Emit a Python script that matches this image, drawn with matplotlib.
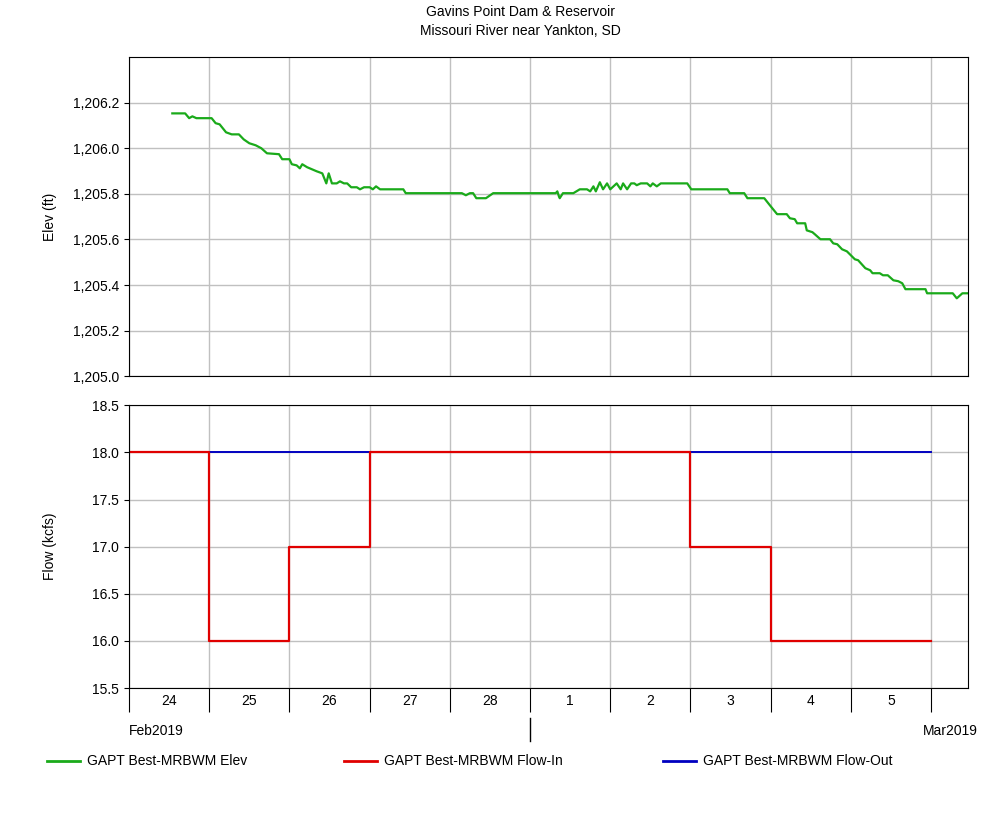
import matplotlib
matplotlib.use("Agg")
import matplotlib.pyplot as plt
from matplotlib.lines import Line2D

plt.rcParams['font.family'] = ['Liberation Sans', 'DejaVu Sans']

# days since 24 Feb 2019 00:00
elev_day = [0.54,0.70,0.75,0.79,0.84,1.03,1.08,1.13,1.21,1.28,1.37,1.43,1.50,1.58,1.65,1.72,1.87,1.91,2.00,2.03,2.09,2.13,2.16,2.22,2.28,2.34,2.41,2.46,2.49,2.53,2.59,2.63,2.68,2.72,2.77,2.84,2.88,2.93,3.00,3.04,3.08,3.13,3.42,3.45,4.15,4.20,4.25,4.29,4.33,4.45,4.54,5.32,5.34,5.36,5.37,5.41,5.54,5.62,5.71,5.75,5.79,5.82,5.87,5.91,5.96,6.00,6.08,6.13,6.16,6.21,6.26,6.30,6.33,6.38,6.46,6.50,6.53,6.58,6.63,6.96,7.01,7.46,7.49,7.67,7.71,7.92,7.99,8.08,8.20,8.24,8.30,8.33,8.43,8.45,8.52,8.55,8.62,8.74,8.78,8.83,8.89,8.95,9.05,9.09,9.18,9.24,9.27,9.36,9.40,9.46,9.53,9.59,9.64,9.68,9.93,9.95,10.27,10.32,10.39,10.46]
elev_val = [1206.153,1206.153,1206.132,1206.140,1206.132,1206.132,1206.110,1206.105,1206.070,1206.061,1206.061,1206.039,1206.022,1206.013,1206.000,1205.978,1205.974,1205.952,1205.952,1205.930,1205.925,1205.912,1205.930,1205.917,1205.908,1205.899,1205.890,1205.846,1205.890,1205.846,1205.846,1205.855,1205.846,1205.846,1205.829,1205.829,1205.820,1205.829,1205.829,1205.820,1205.833,1205.820,1205.820,1205.803,1205.803,1205.794,1205.803,1205.803,1205.781,1205.781,1205.803,1205.803,1205.811,1205.789,1205.781,1205.803,1205.803,1205.820,1205.820,1205.811,1205.833,1205.811,1205.851,1205.820,1205.846,1205.820,1205.846,1205.820,1205.846,1205.820,1205.846,1205.846,1205.838,1205.846,1205.846,1205.833,1205.846,1205.833,1205.846,1205.846,1205.820,1205.820,1205.803,1205.803,1205.781,1205.781,1205.750,1205.711,1205.711,1205.693,1205.689,1205.671,1205.671,1205.640,1205.632,1205.623,1205.601,1205.601,1205.583,1205.579,1205.557,1205.548,1205.513,1205.509,1205.474,1205.465,1205.452,1205.452,1205.443,1205.443,1205.421,1205.417,1205.408,1205.382,1205.382,1205.364,1205.364,1205.342,1205.364,1205.364]

flow_day = [0,1,2,3,4,5,6,7,8,9,10]
flow_in = [18,16,17,18,18,18,18,17,16,16,16]
flow_out = [18,18,18,18,18,18,18,18,18,18,18]
day_labels = ['24','25','26','27','28','1','2','3','4','5']

FS = 10
fig = plt.figure(figsize=(10,8.27), dpi=100)
ax1 = fig.add_axes([0.129, 0.545, 0.839, 0.386])
ax2 = fig.add_axes([0.129, 0.168, 0.839, 0.342])
xmax = 10.46
grid_kw = dict(color='#c0c0c0', lw=1)
for ax in (ax1, ax2):
    ax.set_xlim(0, xmax)
    ax.set_xticks(range(0, 11))
    ax.grid(True, **grid_kw)
    ax.tick_params(labelsize=FS, direction='out')
    for s in ax.spines.values():
        s.set_color('black')
ax1.tick_params(axis='x', length=0, labelbottom=False)
ax2.tick_params(axis='x', length=17, labelbottom=False)

ax1.plot(elev_day, elev_val, color='#1aaa1a', lw=1.6)
ax1.set_ylim(1205.0, 1206.4)
ax1.set_yticks([1205.0,1205.2,1205.4,1205.6,1205.8,1206.0,1206.2])
ax1.set_yticklabels(['1,205.0','1,205.2','1,205.4','1,205.6','1,205.8','1,206.0','1,206.2'])
ax1.set_ylabel('Elev (ft)', fontsize=FS)
ax1.yaxis.set_label_coords(-0.086, 0.5)

ax2.step(flow_day, flow_out, where='post', color='#0000c0', lw=1.4)
ax2.step(flow_day, flow_in, where='post', color='#e00000', lw=1.6)
ax2.set_ylim(15.5, 18.5)
ax2.set_yticks([15.5,16.0,16.5,17.0,17.5,18.0,18.5])
ax2.set_yticklabels(['15.5','16.0','16.5','17.0','17.5','18.0','18.5'])
ax2.set_ylabel('Flow (kcfs)', fontsize=FS)
ax2.yaxis.set_label_coords(-0.086, 0.5)

for i, lab in enumerate(day_labels):
    ax2.text(i + 0.5, -0.045, lab, transform=ax2.get_xaxis_transform(),
             ha='center', va='center', fontsize=FS)

fig.text(0.129, 1-731/827, 'Feb2019', ha='left', va='center', fontsize=FS)
fig.text(0.978, 1-731/827, 'Mar2019', ha='right', va='center', fontsize=FS)
fig.add_artist(Line2D([0.530, 0.530], [1-718/827, 1-741/827], color='black', lw=1))

fig.text(0.52, 1-12/827, 'Gavins Point Dam & Reservoir', ha='center', va='center', fontsize=FS)
fig.text(0.52, 1-31/827, 'Missouri River near Yankton, SD', ha='center', va='center', fontsize=FS)

ly = 1-761/827
for x0, col, lab in [(0.047,'#1aaa1a','GAPT Best-MRBWM Elev'),
                     (0.344,'#e00000','GAPT Best-MRBWM Flow-In'),
                     (0.663,'#0000c0','GAPT Best-MRBWM Flow-Out')]:
    fig.add_artist(Line2D([x0, x0+0.033], [ly, ly], color=col, lw=2))
    fig.text(x0+0.040, ly, lab, ha='left', va='center', fontsize=FS)

fig.savefig('out.png', dpi=100)
